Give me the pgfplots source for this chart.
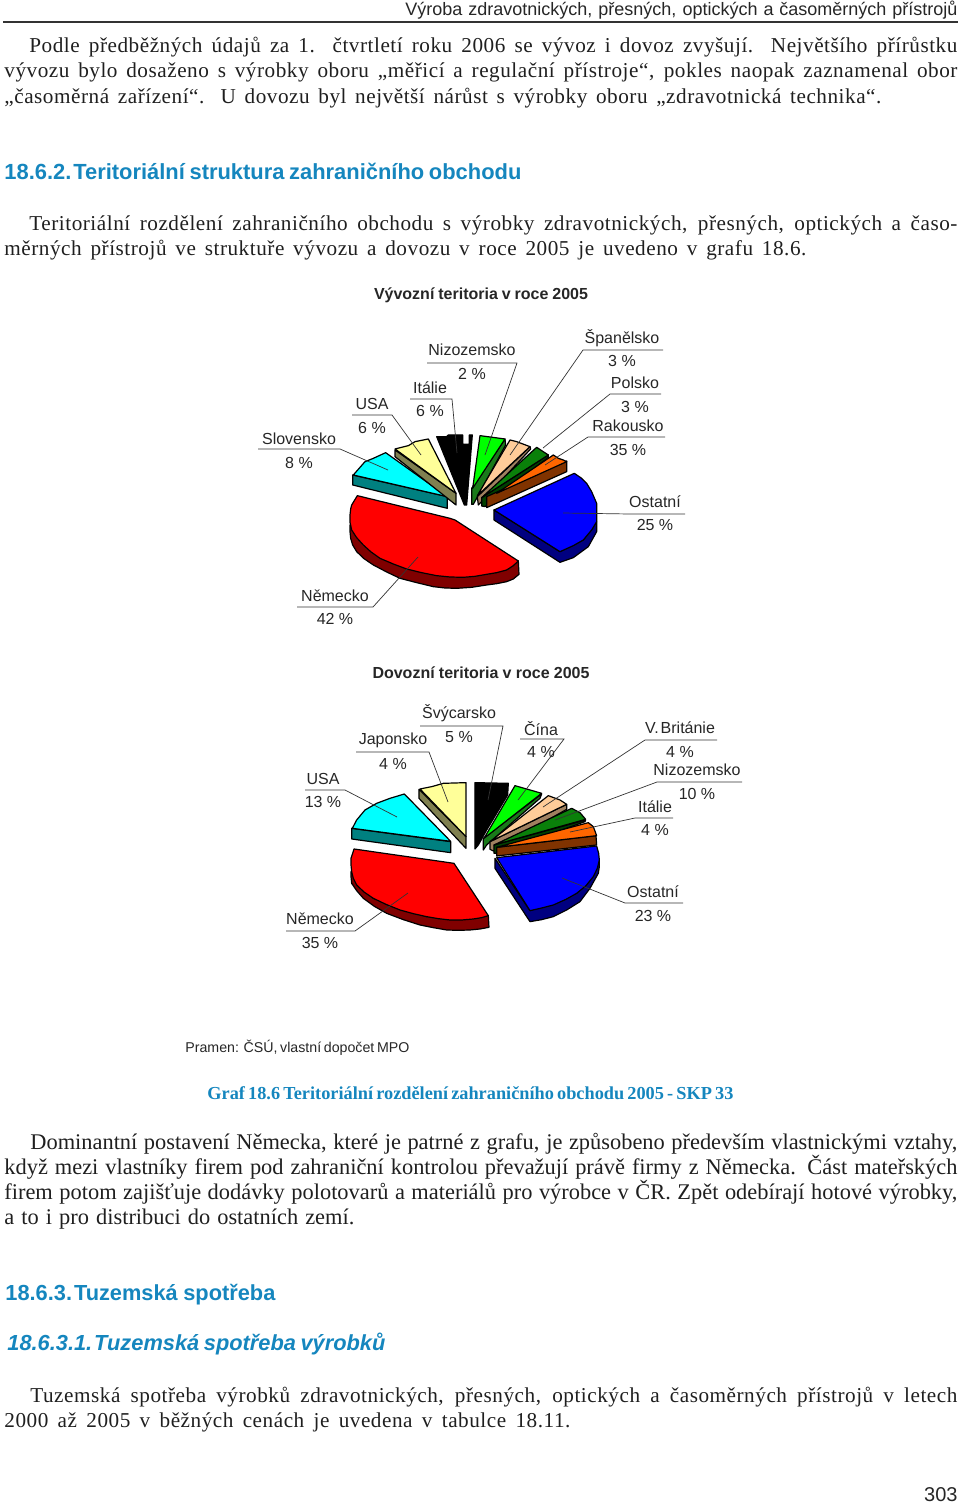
\documentclass[border=0pt]{standalone}
\usepackage{pgfplots}
\pgfplotsset{compat=1.18}
\usepackage{fontspec}
\setmainfont{Liberation Serif}
\newfontfamily\lsans{Liberation Sans}
\newfontfamily\bodyf[LetterSpace=2.5]{Liberation Serif}
\definecolor{head}{HTML}{1586BE}
\definecolor{pcyan}{HTML}{00FFFF}
\definecolor{pgreen}{HTML}{00FF00}
\definecolor{pred}{HTML}{FF0000}
\definecolor{pblue}{HTML}{0000FF}
\definecolor{dred}{HTML}{800000}
\definecolor{dteal}{HTML}{008080}
\definecolor{lyellow}{HTML}{FFFF99}
\definecolor{khaki}{HTML}{808050}
\definecolor{dgreenA}{HTML}{1A7A1A}
\definecolor{peach}{HTML}{FFCC99}
\definecolor{tanb}{HTML}{A08060}
\definecolor{dgreenB}{HTML}{0A800A}
\definecolor{dgreenC}{HTML}{004000}
\definecolor{orng}{HTML}{FF6600}
\definecolor{brwn}{HTML}{803300}
\definecolor{navyb}{HTML}{000080}
\definecolor{lead}{HTML}{333333}
\newcommand\JL[4]{\node[anchor=base west,inner sep=0pt,text=black!88] at (axis cs:#1,#2) {\bodyf\fontsize{10.6}{12}\selectfont\hbox to #3pt{#4}};}
\newcommand\JLb[4]{\node[anchor=base west,inner sep=0pt,text=black!88] at (axis cs:#1,#2) {\fontsize{11.2}{12}\selectfont\hbox to #3pt{#4}};}
\newcommand\LB[3]{\node[inner sep=0pt,text=black!85] at (axis cs:#1,#2) {\lsans\fontsize{8}{9.6}\selectfont #3};}
\pgfplotsset{pie/.style={scale only axis,width=135pt,height=85pt,xmin=0,xmax=810,ymin=0,ymax=510,y dir=reverse,hide axis,clip=false},
 sl/.style={draw=black,line width=0.6pt,line join=round,fill=#1},
 ldr/.style={draw=lead,line width=0.35pt}}
\begin{document}
\begin{tikzpicture}[x=1pt,y=1pt]
\useasboundingbox (0,0) rectangle (480,752.5);
% first pie
\begin{axis}[pie,at={(170pt,455pt)},anchor=south west]
\addplot[sl=dred] coordinates {(535,408)(537,448)(520,462)(500,470)(470,476)(440,480)(395,487)(350,490)(315,489)(280,485)(230,473)(180,460)(140,441)(100,420)(72,401)(50,380)(38,360)(32,340)(30,320)(30,300)(100,380)(300,440)} --cycle;
\addplot[sl=pred] coordinates {(52,212)(330,280)(345,285)(535,408)(520,422)(500,435)(470,443)(440,448)(405,454)(370,457)(330,456)(290,452)(245,443)(200,432)(160,417)(120,400)(92,380)(70,360)(50,338)(35,315)(30,292)(30,270)(32,252)(35,240)} --cycle;
\addplot[sl=navyb] coordinates {(462,255)(462,285)(660,412)(700,398)(745,365)(770,320)(770,290)(730,345)(660,380)} --cycle;
\addplot[sl=pblue] coordinates {(462,255)(703,145)(725,160)(740,175)(755,200)(770,235)(770,262)(770,290)(755,315)(730,345)(700,362)(660,380)} --cycle;
\addplot[sl=dteal] coordinates {(38,150)(38,180)(322,250)(322,215)} --cycle;
\addplot[sl=pcyan] coordinates {(40,150)(75,110)(100,100)(137,83)(322,215)} --cycle;
\addplot[sl=khaki] coordinates {(165,75)(165,95)(348,240)(348,205)} --cycle;
\addplot[sl=lyellow] coordinates {(165,72)(205,62)(225,50)(265,42)(348,205)} --cycle;
\addplot[sl=black] coordinates {(290,35)(320,35)(325,30)(368,30)(368,58)(388,58)(388,30)(397,30)(380,240)(373,240)} --cycle;
\addplot[sl=dgreenA] coordinates {(495,42)(497,60)(400,238)(395,238)(395,190)} --cycle;
\addplot[sl=pgreen] coordinates {(420,32)(495,42)(398,190)} --cycle;
\addplot[sl=tanb] coordinates {(570,65)(572,72)(425,230)(415,240)(412,215)} --cycle;
\addplot[sl=peach] coordinates {(510,45)(530,50)(570,65)(412,212)} --cycle;
\addplot[sl=dgreenC] coordinates {(625,90)(625,97)(435,245)(425,243)(425,218)} --cycle;
\addplot[sl=dgreenB] coordinates {(590,67)(625,90)(425,218)} --cycle;
\addplot[sl=brwn] coordinates {(680,108)(680,140)(440,248)(440,215)} --cycle;
\addplot[sl=orng] coordinates {(640,90)(655,100)(670,105)(680,110)(470,205)} --cycle;
\end{axis}
% second pie
\begin{axis}[pie,at={(170pt,282.5pt)},anchor=south west]
\addplot[sl=dred] coordinates {(445,437)(447,472)(420,477)(390,480)(355,481)(320,480)(280,473)(240,465)(190,449)(140,430)(103,409)(70,385)(50,362)(35,340)(33,320)(33,305)(100,385)(260,440)} --cycle;
\addplot[sl=pred] coordinates {(42,237)(342,280)(445,437)(425,443)(400,447)(365,450)(330,450)(295,446)(260,440)(220,431)(180,420)(140,404)(100,385)(72,366)(50,345)(40,325)(35,305)(33,285)(33,265)(38,250)} --cycle;
\addplot[sl=navyb] coordinates {(465,265)(465,295)(570,455)(605,449)(640,440)(680,420)(720,395)(750,355)(775,310)(778,290)(778,270)(710,370)(570,422)} --cycle;
\addplot[sl=pblue] coordinates {(470,263)(770,228)(776,250)(778,270)(772,295)(760,320)(738,347)(710,370)(678,388)(640,405)(605,414)(570,422)} --cycle;
\addplot[sl=dteal] coordinates {(35,175)(35,207)(332,248)(332,215)} --cycle;
\addplot[sl=pcyan] coordinates {(193,72)(332,214)(37,175)(50,150)(75,120)(110,100)(150,85)} --cycle;
\addplot[sl=khaki] coordinates {(237,58)(237,85)(378,235)(378,200)} --cycle;
\addplot[sl=lyellow] coordinates {(240,57)(275,50)(310,40)(378,38)(378,200)} --cycle;
\addplot[sl=black] coordinates {(405,38)(505,40)(503,75)(440,180)(415,225)(405,237)} --cycle;
\addplot[sl=dgreenA] coordinates {(605,72)(600,85)(440,225)(430,240)(430,205)} --cycle;
\addplot[sl=pgreen] coordinates {(525,47)(605,70)(432,205)} --cycle;
\addplot[sl=tanb] coordinates {(680,103)(680,118)(460,243)(450,238)(450,215)} --cycle;
\addplot[sl=peach] coordinates {(450,215)(625,77)(660,90)(680,103)} --cycle;
\addplot[sl=dgreenC] coordinates {(737,150)(735,155)(470,250)(462,250)(462,225)} --cycle;
\addplot[sl=dgreenB] coordinates {(462,225)(695,115)(720,128)(737,148)} --cycle;
\addplot[sl=brwn] coordinates {(470,232)(470,258)(770,225)(768,197)} --cycle;
\addplot[sl=orng] coordinates {(470,232)(745,158)(760,170)(770,197)} --cycle;
\end{axis}
% page
\begin{axis}[at={(0pt,0pt)},anchor=south west,scale only axis,width=480pt,height=752.5pt,xmin=0,xmax=960,ymin=0,ymax=1505,y dir=reverse,hide axis,clip=false]
\addplot[draw=black!80,line width=0.55pt] coordinates {(3,22)(958,22)};
% leaders pie 1
\addplot[ldr] coordinates {(258,449)(340,449)(388,470)};
\addplot[ldr] coordinates {(352,415)(392,415)(421,455)};
\addplot[ldr] coordinates {(410,399)(452,399)(457,453)};
\addplot[ldr] coordinates {(427,363)(517,363)(485,455)};
\addplot[ldr] coordinates {(663,350)(583,350)(510,455)};
\addplot[ldr] coordinates {(661,394)(610,394)(543,448)};
\addplot[ldr] coordinates {(665,437)(588,437)(545,465)};
\addplot[ldr] coordinates {(685,514)(630,514)(563,513)};
\addplot[ldr] coordinates {(297,607)(373,607)(418,557)};
% leaders pie 2
\addplot[ldr] coordinates {(420,726)(503,726)(488,800)};
\addplot[ldr] coordinates {(356,752)(429,752)(448,802)};
\addplot[ldr] coordinates {(520,739)(564,739)(518,800)};
\addplot[ldr] coordinates {(717,740)(645,740)(543,807)};
\addplot[ldr] coordinates {(742,782)(657,782)(555,820)};
\addplot[ldr] coordinates {(673,818)(635,818)(570,832)};
\addplot[ldr] coordinates {(305,790)(345,790)(397,817)};
\addplot[ldr] coordinates {(286,931)(355,931)(408,893)};
\addplot[ldr] coordinates {(683,903)(625,903)(562,878)};
% header
\node[anchor=base west,inner sep=0pt,text=black!85] at (axis cs:405,15) {\lsans\fontsize{9}{10}\selectfont\hbox to 276pt{Výroba zdravotnických, přesných, optických a časoměrných přístrojů}};
% body
\JL{29}{52}{464}{Podle předběžných údajů za 1. čtvrtletí roku 2006 se vývoz i dovoz zvyšují. Největšího přírůstku}
\JL{4}{77}{476.5}{vývozu bylo dosaženo s výrobky oboru „měřicí a regulační přístroje“, pokles naopak zaznamenal obor}
\JL{4}{103}{438.5}{„časoměrná zařízení“. U dovozu byl největší nárůst s výrobky oboru „zdravotnická technika“.}
\node[anchor=base west,inner sep=0pt,text=head] at (axis cs:4,179) {\lsans\bfseries\fontsize{10.95}{13}\selectfont\hbox to 258.5pt{18.6.2.\kern1pt Teritoriální struktura zahraničního obchodu}};
\JL{29}{230}{464}{Teritoriální rozdělení zahraničního obchodu s výrobky zdravotnických, přesných, optických a časo-}
\JL{4}{255}{401}{měrných přístrojů ve struktuře vývozu a dovozu v roce 2005 je uvedeno v grafu 18.6.}
% chart titles
\node[inner sep=0pt,text=black!85] at (axis cs:481,295) {\lsans\bfseries\fontsize{8}{9.6}\selectfont\hbox to 107pt{Vývozní teritoria v roce 2005}};
\node[inner sep=0pt,text=black!85] at (axis cs:481,673) {\lsans\bfseries\fontsize{8}{9.6}\selectfont\hbox to 108.5pt{Dovozní teritoria v roce 2005}};
% labels pie 1
\LB{299}{439}{Slovensko}\LB{299}{463}{8 \%}
\LB{372}{404}{USA}\LB{372}{428}{6 \%}
\LB{430}{388}{Itálie}\LB{430}{411}{6 \%}
\LB{472}{350}{Nizozemsko}\LB{472}{374}{2 \%}
\LB{622}{338}{Španělsko}\LB{622}{361}{3 \%}
\LB{635}{383}{Polsko}\LB{635}{407}{3 \%}
\LB{628}{426}{Rakousko}\LB{628}{450}{35 \%}
\LB{655}{502}{Ostatní}\LB{655}{525}{25 \%}
\LB{335}{596}{Německo}\LB{335}{619}{42 \%}
% labels pie 2
\LB{459}{713}{Švýcarsko}\LB{459}{737}{5 \%}
\LB{393}{740}{Japonsko}\LB{393}{764}{4 \%}
\LB{541}{729}{Čína}\LB{541}{752}{4 \%}
\LB{680}{728}{V.\kern1pt Británie}\LB{680}{752}{4 \%}
\LB{697}{770}{Nizozemsko}\LB{697}{794}{10 \%}
\LB{655}{807}{Itálie}\LB{655}{830}{4 \%}
\LB{323}{779}{USA}\LB{323}{802}{13 \%}
\LB{320}{919}{Německo}\LB{320}{943}{35 \%}
\LB{653}{892}{Ostatní}\LB{653}{916}{23 \%}
% source + caption
\node[anchor=base west,inner sep=0pt,text=black!85] at (axis cs:185,1052) {\lsans\fontsize{7.1}{9}\selectfont\hbox to 112pt{Pramen: ČSÚ, vlastní dopočet MPO}};
\node[anchor=base west,inner sep=0pt,text=head] at (axis cs:207,1099) {\bfseries\fontsize{9.15}{11}\selectfont\hbox to 263pt{Graf 18.6 Teritoriální rozdělení zahraničního obchodu 2005 - SKP 33}};
% para 2
\JLb{30}{1149}{463.5}{Dominantní postavení Německa, které je patrné z grafu, je způsobeno především vlastnickými vztahy,}
\JLb{4}{1174}{476.5}{když mezi vlastníky firem pod zahraniční kontrolou převažují právě firmy z Německa. Část mateřských}
\JLb{4}{1199}{476.5}{firem potom zajišťuje dodávky polotovarů a materiálů pro výrobce v ČR. Zpět odebírají hotové výrobky,}
\JLb{4}{1224}{175}{a to i pro distribuci do ostatních zemí.}
\node[anchor=base west,inner sep=0pt,text=head] at (axis cs:5,1300) {\lsans\bfseries\fontsize{10.9}{13}\selectfont\hbox to 135pt{18.6.3.\kern1pt Tuzemská spotřeba}};
\node[anchor=base west,inner sep=0pt,text=head] at (axis cs:7,1350) {\lsans\bfseries\itshape\fontsize{10.9}{13}\selectfont\hbox to 189pt{18.6.3.1.\kern1pt Tuzemská spotřeba výrobků}};
\JL{30}{1402}{463.5}{Tuzemská spotřeba výrobků zdravotnických, přesných, optických a časoměrných přístrojů v letech}
\JL{4}{1427}{283}{2000 až 2005 v běžných cenách je uvedena v tabulce 18.11.}
\node[anchor=base east,inner sep=0pt,text=black!85] at (axis cs:958,1501) {\lsans\fontsize{10}{12}\selectfont 303};
\end{axis}
\end{tikzpicture}
\end{document}
